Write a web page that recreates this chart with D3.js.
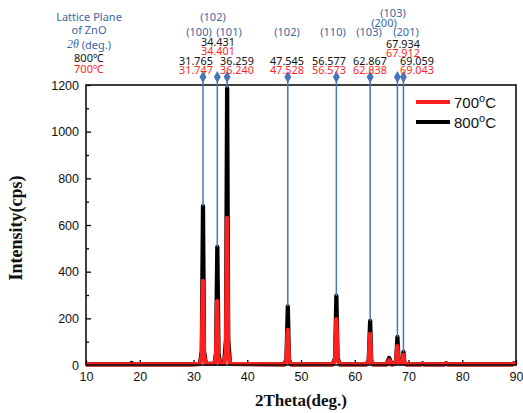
<!DOCTYPE html>
<html><head><meta charset="utf-8">
<script src="https://cdn.jsdelivr.net/npm/d3@7"></script>
<style>
body{margin:0;background:#fff;}
svg{display:block;}
</style></head>
<body>
<svg id="chart" width="523" height="413"></svg>
<script>
// ---- data ----
const xTicks = [10,20,30,40,50,60,70,80,90];
const yTicks = [0,200,400,600,800,1000,1200];

const theta700 = [10,29.5,31.2,31.55,31.747,31.95,32.3,33.9,34.2,34.401,34.6,34.9,35.7,36.05,36.24,36.45,36.8,46.9,47.3,47.528,47.75,48.1,55.9,56.35,56.573,56.8,57.2,62.2,62.6,62.838,63.05,63.4,65.9,66.4,66.9,67.4,67.72,67.912,68.15,68.5,68.85,69.043,69.25,69.6,72.3,72.6,72.9,76.7,77.0,77.3,89.3,89.6,90];
const int700   = [3,3,5,40,360,40,5,5,35,274,35,6,6,60,630,60,5,3,18,150,18,3,3,22,197,22,3,3,15,133,15,3,3,20,3,5,12,81,12,8,8,43,8,3,3,6,3,3,7,3,3,6,3];

const theta800 = [10,18.4,18.5,18.6,29.5,31.2,31.55,31.765,31.95,32.3,33.9,34.2,34.431,34.65,34.95,35.7,36.05,36.259,36.45,36.8,46.9,47.3,47.545,47.75,48.1,55.9,56.35,56.577,56.8,57.2,62.2,62.6,62.867,63.05,63.4,65.9,66.4,66.9,67.4,67.72,67.934,68.15,68.5,68.85,69.059,69.25,69.6,72.3,72.6,72.9,76.7,77.0,77.3,89.3,89.6,90];
const int800   = [3,3,9,3,3,5,60,681,60,5,5,50,506,50,6,6,110,1187,110,5,3,25,251,25,3,3,30,296,30,3,3,20,189,20,3,3,30,3,5,18,120,18,8,8,56,8,3,3,7,3,3,8,3,3,7,3];

// annotated peaks (blue drop lines)
const markPos  = [31.765,34.431,36.259,47.545,56.577,62.867,67.934,69.059];
const markTop  = [681,506,1187,251,296,189,120,56];

// label texts
const planeLabels = ["(100)","(102)","(101)","(102)","(110)","(103)","(200)","(103)","(201)"];
const val800 = ["31.765","34.431","36.259","47.545","56.577","62.867","67.934","69.059"];
const val700 = ["31.747","34.401","36.240","47.528","56.573","62.838","67.912","69.043"];
const legendNames = ["700","800"];

// ---- drawing ----
const svg = d3.select("#chart");
const L=86, R=516, T=85, B=365;
const x = d3.scaleLinear().domain([10,90]).range([L,R]);
const y = d3.scaleLinear().domain([0,1200]).range([B,T]);
const blue = "#4677b8", blueText="#3d67a3", red="#ff1f1f";

// axes
const gx = svg.append("g").attr("transform",`translate(0,${B})`)
  .call(d3.axisBottom(x).tickValues(xTicks).tickSize(-5).tickPadding(7).tickFormat(d3.format("d")));
const gxm = svg.append("g").attr("transform",`translate(0,${B})`)
  .call(d3.axisBottom(x).tickValues(d3.range(15,90,10)).tickSize(-2).tickFormat(""));
const gy = svg.append("g").attr("transform",`translate(${L},0)`)
  .call(d3.axisLeft(y).tickValues(yTicks).tickSize(-5).tickPadding(7).tickFormat(d3.format("d")));
const gym = svg.append("g").attr("transform",`translate(${L},0)`)
  .call(d3.axisLeft(y).tickValues(d3.range(100,1200,200)).tickSize(-3).tickFormat(""));
[gx,gxm,gy,gym].forEach(g=>{
  g.select(".domain").remove();
  g.selectAll("line").attr("stroke","#000").attr("stroke-width",1.3);
  g.selectAll("text").attr("font-family","Liberation Sans, Arial, sans-serif").attr("font-size",12.5).attr("fill","#111");
});

// series
const line = d3.line().x(d=>x(d[0])).y(d=>y(d[1]));
svg.append("path").datum(d3.zip(theta800,int800)).attr("d",line)
  .attr("fill","none").attr("stroke","#000").attr("stroke-width",4.3).attr("stroke-linejoin","round");
svg.append("path").datum(d3.zip(theta700,int700)).attr("d",line)
  .attr("fill","none").attr("stroke",red).attr("stroke-width",4.3).attr("stroke-linejoin","round");

// frame
svg.append("rect").attr("x",L).attr("y",T).attr("width",R-L).attr("height",B-T)
  .attr("fill","none").attr("stroke","#111").attr("stroke-width",1.6);

// blue drop lines + markers
const markY = 77;
markPos.forEach((p,i)=>{
  svg.append("line").attr("x1",x(p)).attr("x2",x(p)).attr("y1",markY).attr("y2",y(markTop[i]))
    .attr("stroke",blue).attr("stroke-width",1.5);
  svg.append("path").attr("d",d3.symbol(d3.symbolDiamond,42)())
    .attr("transform",`translate(${x(p)},${markY})`).attr("fill",blue);
});

// annotations
const fontA = "'Noto Sans', 'Liberation Sans', Arial, sans-serif";
function txt(s,cx,cy,color,size){
  return svg.append("text").attr("x",cx).attr("y",cy).attr("text-anchor","middle")
    .attr("dominant-baseline","central").attr("font-family",fontA).attr("font-size",size||11)
    .attr("fill",color).text(s);
}
// left header
txt("Lattice Plane",89,16,blueText,11);
txt("of ZnO",89,29,blueText,11);
const th = txt("",89,44,blueText,11);
th.append("tspan").attr("font-style","italic").attr("font-family","Liberation Serif, serif").attr("font-size",12).text("2θ");
th.append("tspan").text(" (deg.)");
txt("800\u2103",89,57,"#111",11);
txt("700\u2103",89,68,red,11);

// plane labels
const planeX = [199,213,229,287,333,369,384,393,406];
const planeY = [31,16,31,31,31,31,22,12,31];
planeLabels.forEach((s,i)=>txt(s,planeX[i],planeY[i],blueText,11));

// values
const valX  = [196,218,237,287,329,370,403,417];
const valY  = [60.5,41.5,60.5,60.5,60.5,60.5,43.5,60.5];
val800.forEach((s,i)=>txt(s,valX[i],valY[i],"#111",10.8));
val700.forEach((s,i)=>txt(s,valX[i],valY[i]+8.5,red,10.8));

// legend
const legColors=[red,"#000"];
legendNames.forEach((n,i)=>{
  const ly = 102 + i*20;
  svg.append("line").attr("x1",416).attr("x2",450).attr("y1",ly).attr("y2",ly)
    .attr("stroke",legColors[i]).attr("stroke-width",4);
  const t = svg.append("text").attr("x",454).attr("y",ly+5.5)
    .attr("font-family","Liberation Sans, Arial, sans-serif").attr("font-size",15).attr("fill","#111");
  t.append("tspan").text(n);
  t.append("tspan").attr("dy",-6).attr("font-size",11).text("o");
  t.append("tspan").attr("dy",6).text("C");
});

// axis titles
svg.append("text").attr("transform","translate(22,228) rotate(-90)").attr("text-anchor","middle")
  .attr("font-family","Liberation Serif, 'Times New Roman', serif").attr("font-weight","bold")
  .attr("font-size",18).attr("fill","#111").text("Intensity(cps)");
svg.append("text").attr("x",301).attr("y",406).attr("text-anchor","middle")
  .attr("font-family","Liberation Serif, 'Times New Roman', serif").attr("font-weight","bold")
  .attr("font-size",17).attr("fill","#111").text("2Theta(deg.)");
</script>
</body></html>
